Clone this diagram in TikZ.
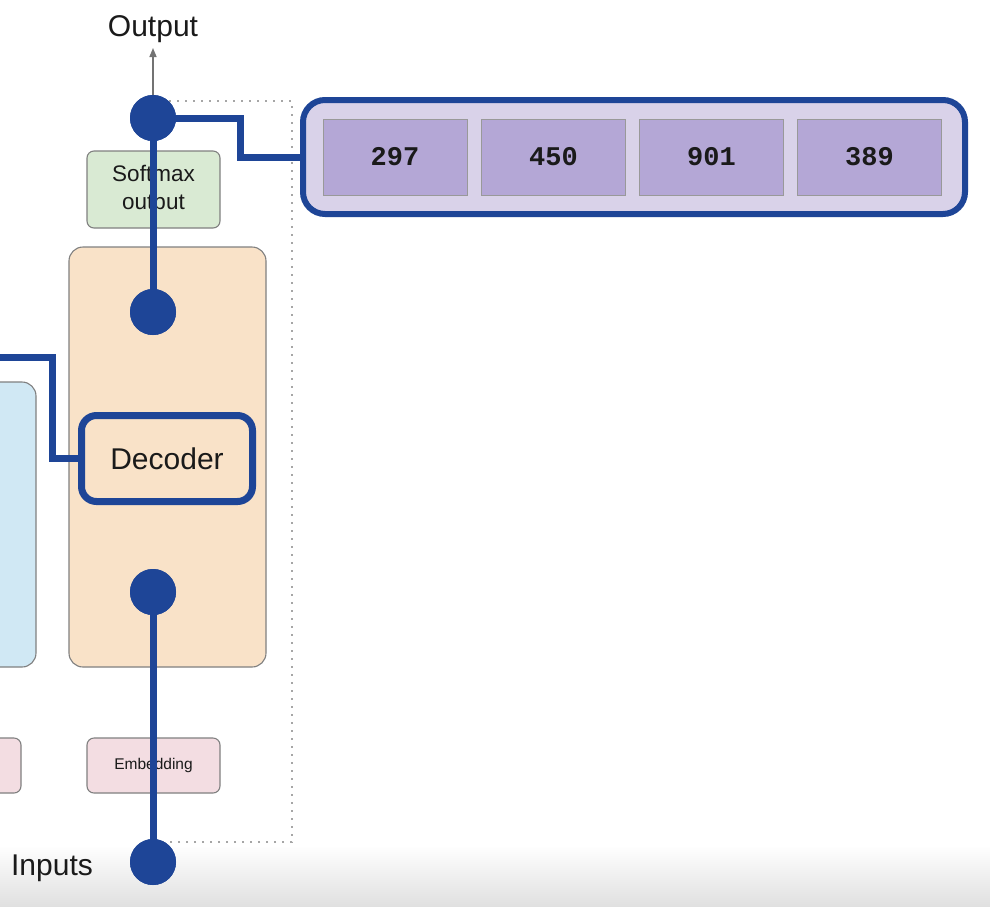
\documentclass[tikz,border=0pt]{standalone}
\usepackage{fontspec}
\setmainfont{Liberation Sans}
\newfontfamily\numfont{Liberation Mono}
\usetikzlibrary{arrows.meta}
\definecolor{myblue}{HTML}{1E4597}
\definecolor{boxgray}{HTML}{808080}
\definecolor{decfill}{HTML}{F9E2C8}
\definecolor{smfill}{HTML}{D9EAD3}
\definecolor{embfill}{HTML}{F3DDE2}
\definecolor{encfill}{HTML}{D0E8F4}
\definecolor{lavfill}{HTML}{D9D2E9}
\definecolor{purfill}{HTML}{B4A7D6}
\definecolor{txt}{HTML}{1A1A1A}
\tikzset{
  plainbox/.style={draw=boxgray, line width=1.1pt, rounded corners=7pt, inner sep=0pt, text=txt, align=center},
  numbox/.style={draw=boxgray!80, line width=0.8pt, fill=purfill, minimum width=144pt, minimum height=76pt, inner sep=0pt, text=txt, font=\numfont\bfseries\fontsize{27}{30}\selectfont},
  conn/.style={draw=myblue, line width=7pt},
  bigdot/.style={circle, fill=myblue, minimum size=46pt, inner sep=0pt},
  bigtext/.style={text=txt, font=\fontsize{30}{36}\selectfont, inner sep=0pt}
}
\begin{document}
\begin{tikzpicture}[x=1pt,y=-1pt]
\clip (0,0) rectangle (990,906);
\fill[white] (0,0) rectangle (990,906);
\shade[top color=white, bottom color=black!12] (0,845) rectangle (990,906);
% boxes
\node[plainbox, fill=encfill, rounded corners=14pt, minimum width=96pt, minimum height=285pt] (enc) at (-12,524.5) {};
\node[plainbox, fill=embfill, minimum width=61pt, minimum height=55pt] (lemb) at (-9.5,765.5) {};
\node[plainbox, fill=decfill, rounded corners=14pt, minimum width=197pt, minimum height=420pt] (decbox) at (167.5,457) {};
\node[plainbox, fill=smfill, minimum width=133pt, minimum height=77pt, font=\fontsize{22.5}{28}\selectfont] (soft) at (153.5,189.5) {Softmax\\output};
\node[plainbox, fill=embfill, minimum width=133pt, minimum height=55pt, font=\fontsize{15.5}{18}\selectfont] (emb) at (153.5,765.5) {\raisebox{-1.5pt}{Embedding}};
\draw[boxgray!70, line width=2pt, dash pattern=on 1.6pt off 6.4pt] (153,101) -- (292,101) -- (292,842) -- (153,842);
% output box
\node[draw=myblue, line width=6pt, fill=lavfill, rounded corners=22pt, minimum width=662pt, minimum height=114pt, inner sep=0pt] (outbox) at (634,157) {};
\node[numbox] (n1) at (395,157) {297};
\node[numbox] (n2) at (553.5,157) {450};
\node[numbox] (n3) at (711.5,157) {901};
\node[numbox] (n4) at (869.5,157) {389};
% decoder
\node[draw=myblue, line width=7pt, fill=decfill, rounded corners=15pt, minimum width=171pt, minimum height=86pt, inner sep=0pt, text=txt, font=\fontsize{30}{36}\selectfont] (dec) at (167,458.5) {Decoder};
% texts
\node[bigtext] (out) at (153,29) {Output};
\node[bigtext] (inp) at (52,868) {Inputs};
% dots
\node[bigdot] (d1) at (153,118) {};
\node[bigdot] (d2) at (153,312) {};
\node[bigdot] (d3) at (153,592) {};
\node[bigdot] (d4) at (153,862) {};
\coordinate (ah) at (153,48);
\coordinate (lin) at (-5,357);
\coordinate (lbend) at (52,357);
\coordinate (tbend) at (240,118);
% connectors
\draw[black!55, line width=1.5pt, -{Triangle[length=9pt,width=7pt]}] (d1.center) -- (ah);
\draw[conn] (d1.center) -- (d2.center);
\draw[conn] (d3.center) -- (d4.center);
\draw[conn] (d1.center) -- (tbend) |- (outbox.west);
\draw[conn] (lin) -- (lbend) |- (dec.west);
\node[bigdot] at (d1) {};
\node[bigdot] at (d2) {};
\node[bigdot] at (d3) {};
\node[bigdot] at (d4) {};
\end{tikzpicture}
\end{document}
